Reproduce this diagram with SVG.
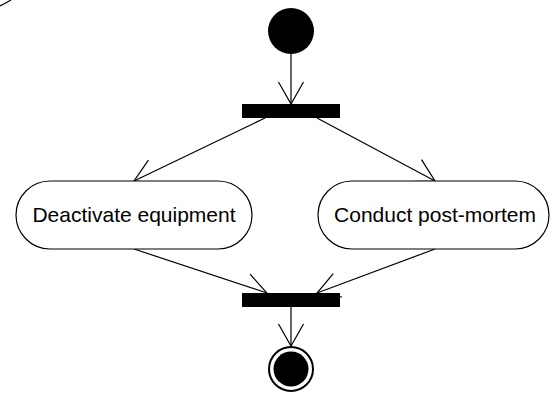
<svg xmlns="http://www.w3.org/2000/svg" width="556" height="396" viewBox="0 0 556 396">
<style>
.line{fill:none;stroke:#000;stroke-width:1.2}
.act{fill:#fff;stroke:#000;stroke-width:1.2}
.bar{fill:#000}
.lbl{font-family:"Liberation Sans",Arial,sans-serif;font-size:21px;fill:#000;text-anchor:middle}
</style>
<defs>
<marker id="arr" markerUnits="userSpaceOnUse" markerWidth="60" markerHeight="60" viewBox="-30 -30 60 60" refX="0" refY="0" orient="auto" overflow="visible">
<path d="M-22,-12.5 L0,0 L-22,12.5" fill="none" stroke="#000" stroke-width="1.2"/>
</marker>
</defs>
<path class="line" d="M0,6 Q5,3.5 11,0"/>
<g id="connectors">
<line class="line" x1="291" y1="54" x2="291" y2="104" marker-end="url(#arr)"/>
<line class="line" x1="265" y1="118" x2="134" y2="181" marker-end="url(#arr)"/>
<line class="line" x1="317" y1="118" x2="435" y2="181" marker-end="url(#arr)"/>
<line class="line" x1="134" y1="249" x2="267" y2="293" marker-end="url(#arr)"/>
<line class="line" x1="435" y1="249" x2="317" y2="293" marker-end="url(#arr)"/>
<line class="line" x1="291" y1="307" x2="291" y2="346" marker-end="url(#arr)"/>
</g>
<g id="initial"><circle cx="291" cy="31" r="23" fill="#000"/></g>
<g id="fork"><rect class="bar" x="242" y="104" width="98" height="14"/></g>
<g id="deactivate">
<rect class="act" x="16" y="181" width="236" height="68" rx="34" ry="34"/>
<text class="lbl" x="134" y="222">Deactivate equipment</text>
</g>
<g id="postmortem">
<rect class="act" x="318" y="181" width="231" height="68" rx="34" ry="34"/>
<text class="lbl" x="435" y="222">Conduct post-mortem</text>
</g>
<g id="join"><rect class="bar" x="242" y="293" width="98" height="14"/></g>
<g id="final">
<circle cx="291" cy="369" r="22" fill="#fff" stroke="#000" stroke-width="2"/>
<circle cx="291" cy="369" r="17.5" fill="#000"/>
</g>
</svg>
